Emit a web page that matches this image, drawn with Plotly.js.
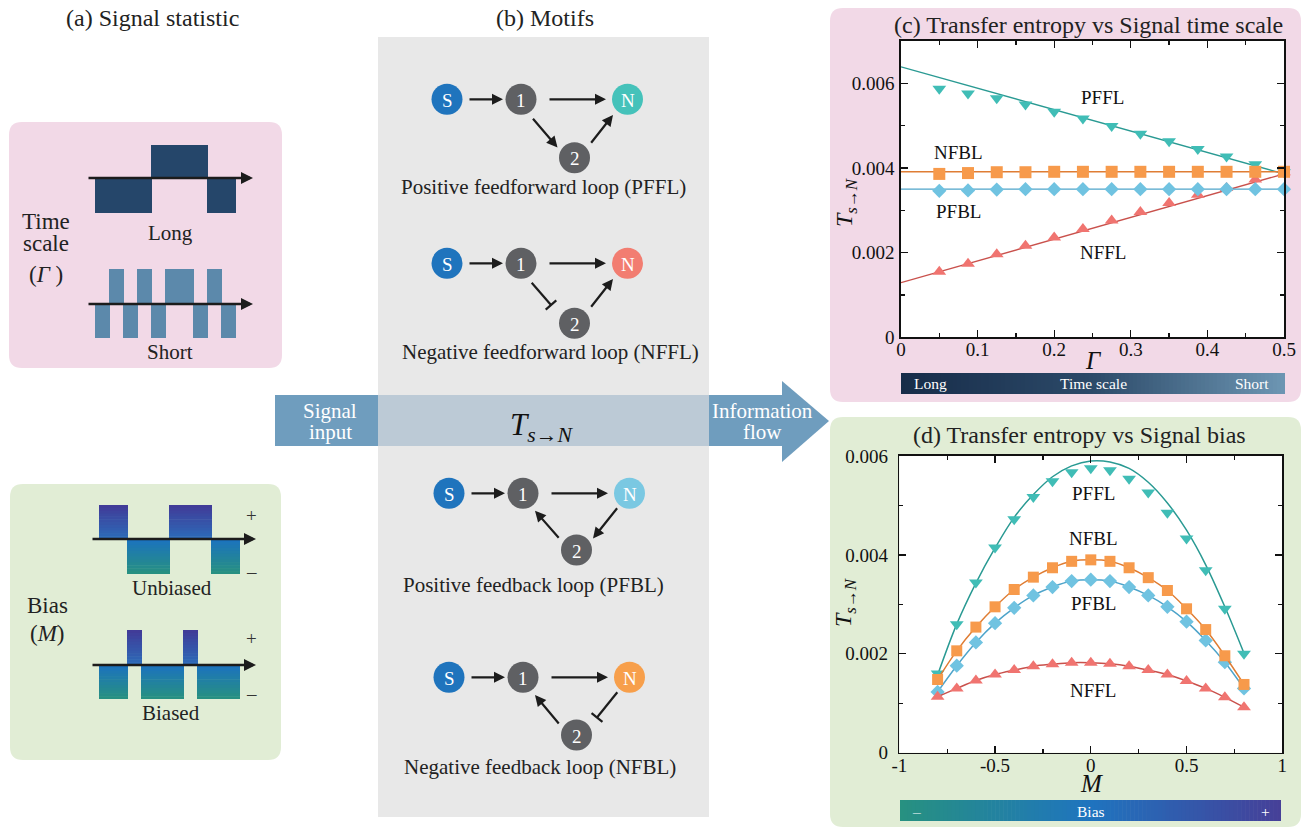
<!DOCTYPE html>
<html><head><meta charset="utf-8">
<script src="https://cdn.plot.ly/plotly-3.0.1.min.js"></script>
<style>html,body{margin:0;padding:0;background:#fff}#chart{width:1302px;height:828px}</style>
</head><body><div id="chart"></div>
<script>
// ---------------- data: panel (c) transfer entropy vs signal time scale ----------------
const gammaValues = [0.05, 0.0875, 0.125, 0.1625, 0.2, 0.2375, 0.275, 0.3125, 0.35, 0.3875, 0.425, 0.4625, 0.5];
const pfflGamma = [0.00587, 0.00576, 0.00565, 0.00550, 0.00533, 0.00517, 0.00499, 0.00481, 0.00463, 0.00445, 0.00427, 0.00409, 0.00390];
const nfflGamma = [0.00155, 0.00174, 0.00196, 0.00216, 0.00236, 0.00256, 0.00276, 0.00296, 0.00317, 0.00337, 0.00353, 0.00373, 0.00390];
const nfblGamma = [0.00386, 0.00388, 0.00390, 0.00390, 0.00391, 0.00391, 0.00391, 0.00391, 0.00391, 0.00391, 0.00391, 0.00391, 0.00391];
const pfblGamma = [0.00346, 0.00347, 0.00349, 0.00350, 0.00350, 0.00350, 0.00350, 0.00350, 0.00350, 0.00350, 0.00350, 0.00350, 0.00350];
const gammaFitX = [0, 0.5];
const pfflGammaFit = [0.00639, 0.00386];
const nfflGammaFit = [0.00129, 0.00386];
const nfblGammaFit = [0.00391, 0.00391];
const pfblGammaFit = [0.00350, 0.00350];

// ---------------- data: panel (d) transfer entropy vs signal bias ----------------
const biasValues = [-0.8, -0.7, -0.6, -0.5, -0.4, -0.3, -0.2, -0.1, 0, 0.1, 0.2, 0.3, 0.4, 0.5, 0.6, 0.7, 0.8];
const pfflBias = [0.00160, 0.00260, 0.00344, 0.00415, 0.00472, 0.00517, 0.00549, 0.00567, 0.00575, 0.00571, 0.00554, 0.00526, 0.00485, 0.00433, 0.00369, 0.00291, 0.00200];
const pfflBiasFit = [0.00157, 0.00260, 0.00343, 0.00414, 0.00476, 0.00522, 0.00558, 0.00580, 0.00590, 0.00588, 0.00575, 0.00547, 0.00505, 0.00450, 0.00380, 0.00295, 0.00201];
const nfblBias = [0.00148, 0.00206, 0.00254, 0.00295, 0.00330, 0.00355, 0.00374, 0.00387, 0.00390, 0.00387, 0.00374, 0.00354, 0.00328, 0.00291, 0.00249, 0.00196, 0.00138];
const pfblBias = [0.00123, 0.00176, 0.00223, 0.00262, 0.00293, 0.00318, 0.00335, 0.00347, 0.00350, 0.00347, 0.00335, 0.00318, 0.00295, 0.00265, 0.00227, 0.00183, 0.00130];
const nfflBias = [0.00113, 0.00130, 0.00146, 0.00158, 0.00167, 0.00175, 0.00179, 0.00182, 0.00182, 0.00180, 0.00175, 0.00167, 0.00158, 0.00145, 0.00130, 0.00112, 0.00092];

// tick labels
const gammaTicks = [0, 0.1, 0.2, 0.3, 0.4, 0.5];
const teTicks = [0, 0.002, 0.004, 0.006];
const biasTickVals = [-1, -0.5, 0, 0.5, 1];
const biasTickText = ['-1', '-0.5', '0', '0.5', '1'];
const biasMinorVals = [-0.75, -0.25, 0.25, 0.75];

// ---------------- drawing helpers (pixel -> paper) ----------------
const W = 1302, H = 828;
const X = p => p / W, Y = p => 1 - p / H;
const SERIF = 'Liberation Serif, Times New Roman, serif';
const shapes = [], annotations = [];

function rect(x0, y0, x1, y1, color) {
  shapes.push({type:'rect', xref:'paper', yref:'paper', x0:X(x0), x1:X(x1), y0:Y(y1), y1:Y(y0),
    fillcolor:color, line:{width:0}, layer:'below'});
}
function roundRect(x0, y0, x1, y1, r, color) {
  const p = (x, y) => X(x).toFixed(6) + ',' + Y(y).toFixed(6);
  const path = 'M' + p(x0 + r, y0) + ' L' + p(x1 - r, y0) + ' Q' + p(x1, y0) + ' ' + p(x1, y0 + r) +
    ' L' + p(x1, y1 - r) + ' Q' + p(x1, y1) + ' ' + p(x1 - r, y1) + ' L' + p(x0 + r, y1) +
    ' Q' + p(x0, y1) + ' ' + p(x0, y1 - r) + ' L' + p(x0, y0 + r) + ' Q' + p(x0, y0) + ' ' + p(x0 + r, y0) + ' Z';
  shapes.push({type:'path', xref:'paper', yref:'paper', path, fillcolor:color, line:{width:0}, layer:'below'});
}
function polygon(pts, color) {
  const path = 'M' + pts.map(q => X(q[0]).toFixed(6) + ',' + Y(q[1]).toFixed(6)).join(' L') + ' Z';
  shapes.push({type:'path', xref:'paper', yref:'paper', path, fillcolor:color, line:{width:0}, layer:'below'});
}
function hex2rgb(h) { return [1, 3, 5].map(i => parseInt(h.substr(i, 2), 16)); }
function mix(stops, t) {
  const n = stops.length - 1;
  const k = Math.min(Math.floor(t * n), n - 1);
  const f = t * n - k;
  const a = hex2rgb(stops[k]), b = hex2rgb(stops[k + 1]);
  return 'rgb(' + a.map((v, i) => Math.round(v + (b[i] - v) * f)).join(',') + ')';
}
function gradRect(x0, y0, x1, y1, stops, vertical, n) {
  for (let i = 0; i < n; i++) {
    const c = mix(stops, (i + 0.5) / n);
    if (vertical) {
      const a = y0 + (y1 - y0) * i / n, b = y0 + (y1 - y0) * (i + 1) / n;
      rect(x0, a, x1, Math.min(b + 0.6, y1), c);
    } else {
      const a = x0 + (x1 - x0) * i / n, b = x0 + (x1 - x0) * (i + 1) / n;
      rect(a, y0, Math.min(b + 0.6, x1), y1, c);
    }
  }
}
function txt(x, y, text, size, color, extra) {
  annotations.push(Object.assign({xref:'paper', yref:'paper', x:X(x), y:Y(y), text, showarrow:false,
    xanchor:'center', yanchor:'middle', font:{family:SERIF, size, color}}, extra || {}));
}
function arrow(x0, y0, x1, y1, w) {
  annotations.push({xref:'paper', yref:'paper', x:X(x1), y:Y(y1), ax:x0 - x1, ay:y0 - y1,
    axref:'pixel', ayref:'pixel', text:'', showarrow:true, arrowhead:2, arrowsize:1,
    arrowwidth:w || 2.2, arrowcolor:'#1c1c1c', standoff:0, startstandoff:0});
}
function seg(x0, y0, x1, y1, w, color) {
  shapes.push({type:'line', xref:'paper', yref:'paper', x0:X(x0), y0:Y(y0), x1:X(x1), y1:Y(y1),
    line:{width:w, color:color || '#1c1c1c'}, layer:'above'});
}
function inhibit(x0, y0, x1, y1) {
  seg(x0, y0, x1, y1, 2.2);
  const dx = x1 - x0, dy = y1 - y0, L = Math.hypot(dx, dy);
  const px = -dy / L * 7, py = dx / L * 7;
  seg(x1 - px, y1 - py, x1 + px, y1 + py, 2.2);
}
const R = 15.5;
function node(cx, cy, label, color) {
  shapes.push({type:'circle', xref:'paper', yref:'paper', x0:X(cx - R), x1:X(cx + R), y0:Y(cy + R), y1:Y(cy - R),
    fillcolor:color, line:{width:0}, layer:'above'});
  txt(cx, cy + 1, label, 19, '#ffffff');
}

// ---------------- panel backgrounds ----------------
roundRect(9, 122, 282, 368, 13, '#f2d9e7');
roundRect(10, 484, 281, 760, 13, '#e1edd5');
roundRect(830, 8, 1301, 402, 13, '#f2d9e7');
roundRect(830, 417, 1301, 827, 13, '#e1edd5');
rect(378, 37, 709, 817, '#e8e8e8');
// white plot areas
rect(901, 41, 1284, 337.3, '#ffffff');
rect(899.3, 456, 1282.3, 752.7, '#ffffff');

// ---------------- panel (a) ----------------
txt(152, 18, '(a) Signal statistic', 24, '#222');
// long time scale signal
rect(95, 178, 152, 213, '#25466a');
rect(151, 145, 208, 178, '#25466a');
rect(207, 178, 236, 213, '#25466a');
arrow(87, 178, 253, 178, 2.4);
txt(170, 233, 'Long', 21, '#222');
// short time scale signal
[[109, 124], [137, 152], [165, 194], [207, 222]].forEach(r => rect(r[0], 269, r[1], 304, '#5c89ab'));
[[95, 110], [123, 138], [151, 166], [193, 208], [221, 236]].forEach(r => rect(r[0], 304, r[1], 338, '#5c89ab'));
arrow(87, 304, 253, 304, 2.4);
txt(170, 352, 'Short', 21, '#222');
txt(46, 221, 'Time', 23, '#222');
txt(46, 244, 'scale', 23, '#222');
txt(46, 275, '(<i>Γ</i> )', 23, '#222');

// bias signals
const upStops = ['#423a97', '#2b6cb9'];
const downStops = ['#1b72c0', '#28917f'];
gradRect(99, 505, 128, 539, upStops, true, 12);
gradRect(169, 505, 212, 539, upStops, true, 12);
gradRect(127, 539, 170, 574, downStops, true, 12);
gradRect(211, 539, 240, 574, downStops, true, 12);
arrow(91, 539, 256, 539, 2.4);
txt(251, 515, '+', 19, '#333');
txt(251, 571, '–', 19, '#333');
txt(172, 588, 'Unbiased', 21, '#222');
gradRect(127, 630, 142, 665, upStops, true, 12);
gradRect(183, 630, 198, 665, upStops, true, 12);
gradRect(99, 665, 128, 699, downStops, true, 12);
gradRect(141, 665, 184, 699, downStops, true, 12);
gradRect(197, 665, 240, 699, downStops, true, 12);
arrow(91, 665, 256, 665, 2.4);
txt(251, 638, '+', 19, '#333');
txt(251, 693, '–', 19, '#333');
txt(171, 713, 'Biased', 21, '#222');
txt(47, 605, 'Bias', 23, '#222');
txt(47, 633, '(<i>M</i>)', 23, '#222');

// ---------------- panel (b) ----------------
txt(545, 18, '(b) Motifs', 24, '#222');
// information band
rect(275, 395, 378, 446, '#6f9dbe');
rect(378, 395, 709, 446, '#bccad6');
rect(709, 395, 783, 446, '#6f9dbe');
polygon([[782, 381], [829, 421], [782, 462]], '#6f9dbe');
txt(330, 411, 'Signal', 21, '#ffffff');
txt(330, 432, 'input', 21, '#ffffff');
txt(762, 411, 'Information', 21, '#ffffff');
txt(762, 432, 'flow', 21, '#ffffff');
txt(541, 427, '<i>T</i><sub><i>s</i>→<i>N</i></sub>', 31, '#111');

const S_COL = '#1f74bd', G_COL = '#5f6063';
function motifBase(dx, y, y2, nColor) {
  node(447 + dx, y, 'S', S_COL);
  node(521 + dx, y, '1', G_COL);
  node(627.5 + dx, y, 'N', nColor);
  node(574.5 + dx, y2, '2', G_COL);
  arrow(468 + dx, y, 503 + dx, y);
  arrow(548 + dx, y, 606 + dx, y);
}
// PFFL
motifBase(0, 99.3, 157.7, '#45c2ba');
arrow(531.7, 117.3, 557.5, 147.5);
arrow(590, 144.3, 613, 115);
txt(543, 187, 'Positive feedforward loop (PFFL)', 21, '#222');
// NFFL
motifBase(0, 263.3, 323.3, '#f27d71');
inhibit(531.7, 282.7, 551, 305);
arrow(590, 308.3, 613, 279);
txt(550, 352, 'Negative feedforward loop (NFFL)', 21, '#222');
// PFBL
motifBase(2, 493.3, 550, '#7ac8e2');
arrow(618.3, 506.7, 593, 538.5);
arrow(560, 539.3, 535, 510.7);
txt(533, 585, 'Positive feedback loop (PFBL)', 21, '#222');
// NFBL
motifBase(2, 677.3, 735, '#f79f4b');
arrow(560, 725, 535, 695);
inhibit(617.3, 692.3, 597, 717.5);
txt(540, 767, 'Negative feedback loop (NFBL)', 21, '#222');

// ---------------- panel (c) / (d) decorations ----------------
txt(1088, 25, '(c) Transfer entropy vs Signal time scale', 24, '#222');
gradRect(901, 373, 1285, 394, ['#172c49', '#2c4a69', '#6d96b3'], false, 96);
txt(930, 383.5, 'Long', 15.5, '#ffffff');
txt(1093, 383.5, 'Time scale', 15.5, '#ffffff');
txt(1252, 383.5, 'Short', 15.5, '#ffffff');
txt(1102, 98, 'PFFL', 19, '#111');
txt(958, 152, 'NFBL', 19, '#111');
txt(958, 211, 'PFBL', 19, '#111');
txt(1103, 252, 'NFFL', 19, '#111');
// axis titles
txt(1093, 361, '<i>Γ</i>', 25, '#111');
txt(846, 203, '<i>T</i><sub><i>s</i>→<i>N</i></sub>', 24, '#111', {textangle:-90});

txt(1079, 435, '(d) Transfer entropy vs Signal bias', 24, '#222');
gradRect(900, 800, 1281, 821, ['#279180', '#1f74bf', '#463f98'], false, 96);
txt(916, 811, '–', 15.5, '#ffffff');
txt(1091, 811, 'Bias', 15.5, '#ffffff');
txt(1265, 811, '+', 15.5, '#ffffff');
txt(1093, 493, 'PFFL', 19, '#111');
txt(1093, 538, 'NFBL', 19, '#111');
txt(1093, 603, 'PFBL', 19, '#111');
txt(1093, 690, 'NFFL', 19, '#111');
txt(1091, 783, '<i>M</i>', 25, '#111');
txt(845, 602, '<i>T</i><sub><i>s</i>→<i>N</i></sub>', 24, '#111', {textangle:-90});

// ---------------- traces ----------------
const C = {
  pffl:{m:'#40bdb6', l:'#2a9a93'}, nffl:{m:'#f07470', l:'#c9514c'},
  nfbl:{m:'#f79a4b', l:'#df7d34'}, pfbl:{m:'#70c3e1', l:'#4ea4ca'}
};
const traces = [
  {x:gammaFitX, y:nfflGammaFit, mode:'lines', line:{color:C.nffl.l, width:1.4}, xaxis:'x', yaxis:'y', hoverinfo:'skip'},
  {x:gammaFitX, y:pfflGammaFit, mode:'lines', line:{color:C.pffl.l, width:1.4}, xaxis:'x', yaxis:'y', hoverinfo:'skip'},
  {x:gammaFitX, y:pfblGammaFit, mode:'lines', line:{color:C.pfbl.l, width:1.4}, xaxis:'x', yaxis:'y', hoverinfo:'skip'},
  {x:gammaFitX, y:nfblGammaFit, mode:'lines', line:{color:C.nfbl.l, width:1.4}, xaxis:'x', yaxis:'y', hoverinfo:'skip'},
  {x:gammaValues, y:nfflGamma, mode:'markers', name:'NFFL', marker:{symbol:'triangle-up', size:12, color:C.nffl.m}, xaxis:'x', yaxis:'y', cliponaxis:false},
  {x:gammaValues, y:pfflGamma, mode:'markers', name:'PFFL', marker:{symbol:'triangle-down', size:12, color:C.pffl.m}, xaxis:'x', yaxis:'y', cliponaxis:false},
  {x:gammaValues, y:pfblGamma, mode:'markers', name:'PFBL', marker:{symbol:'diamond', size:11, color:C.pfbl.m}, xaxis:'x', yaxis:'y', cliponaxis:false},
  {x:gammaValues, y:nfblGamma, mode:'markers', name:'NFBL', marker:{symbol:'square', size:12, color:C.nfbl.m}, xaxis:'x', yaxis:'y', cliponaxis:false},

  {x:biasValues, y:pfflBiasFit, mode:'lines', line:{color:C.pffl.l, width:1.5, shape:'spline'}, xaxis:'x2', yaxis:'y2', hoverinfo:'skip'},
  {x:biasValues, y:pfflBias, mode:'markers', name:'PFFL', marker:{symbol:'triangle-down', size:12, color:C.pffl.m}, xaxis:'x2', yaxis:'y2', cliponaxis:false},
  {x:biasValues, y:pfblBias, mode:'lines+markers', name:'PFBL', line:{color:C.pfbl.l, width:1.5, shape:'spline'}, marker:{symbol:'diamond', size:11, color:C.pfbl.m}, xaxis:'x2', yaxis:'y2', cliponaxis:false},
  {x:biasValues, y:nfflBias, mode:'lines+markers', name:'NFFL', line:{color:C.nffl.l, width:1.5, shape:'spline'}, marker:{symbol:'triangle-up', size:12, color:C.nffl.m}, xaxis:'x2', yaxis:'y2', cliponaxis:false},
  {x:biasValues, y:nfblBias, mode:'lines+markers', name:'NFBL', line:{color:C.nfbl.l, width:1.5, shape:'spline'}, marker:{symbol:'square', size:11, color:C.nfbl.m}, xaxis:'x2', yaxis:'y2', cliponaxis:false}
];

const tickFont = {family:SERIF, size:19, color:'#111'};
const axBase = {showline:true, linecolor:'#111', linewidth:1.6, mirror:'allticks', ticks:'inside', ticklen:7,
  tickwidth:1.2, tickcolor:'#111', showgrid:false, zeroline:false, tickfont:tickFont, fixedrange:true};

const layout = {
  width:W, height:H, margin:{l:0, r:0, t:0, b:0}, paper_bgcolor:'#ffffff', plot_bgcolor:'rgba(0,0,0,0)',
  showlegend:false, shapes, annotations,
  xaxis:Object.assign({}, axBase, {domain:[X(901), X(1284)], range:[0, 0.5], anchor:'y',
    tickmode:'array', tickvals:gammaTicks, ticktext:gammaTicks.map(String), ticklabelstandoff:-6,
    minor:{dtick:0.05, tick0:0, ticks:'inside', ticklen:4, tickcolor:'#111'}}),
  yaxis:Object.assign({}, axBase, {domain:[Y(337.3), Y(41)], range:[0, 0.007], anchor:'x',
    tickmode:'array', tickvals:teTicks, ticktext:teTicks.map(String), ticklabelstandoff:1,
    minor:{dtick:0.001, tick0:0, ticks:'inside', ticklen:4, tickcolor:'#111'}}),
  xaxis2:Object.assign({}, axBase, {domain:[X(899.3), X(1282.3)], range:[-1, 1], anchor:'y2',
    tickmode:'array', tickvals:biasTickVals, ticktext:biasTickText, ticklabelstandoff:-5,
    minor:{tickmode:'array', tickvals:biasMinorVals, ticks:'inside', ticklen:4, tickcolor:'#111'}}),
  yaxis2:Object.assign({}, axBase, {domain:[Y(752.7), Y(456)], range:[0, 0.006], anchor:'x2',
    tickmode:'array', tickvals:teTicks, ticktext:teTicks.map(String), ticklabelstandoff:6,
    minor:{dtick:0.001, tick0:0, ticks:'inside', ticklen:4, tickcolor:'#111'}})
};

Plotly.newPlot('chart', traces, layout, {displayModeBar:false, staticPlot:true});
</script></body></html>
